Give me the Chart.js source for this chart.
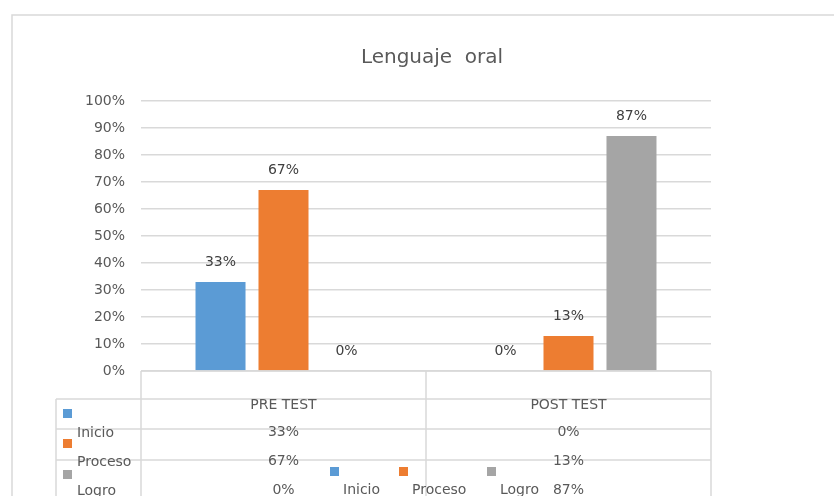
<!DOCTYPE html>
<html>
<head>
<meta charset="utf-8">
<script src="https://cdn.jsdelivr.net/npm/chart.js@4"></script>
<style>
  body { margin: 0; background: #fff; }
  canvas { display: block; }
</style>
</head>
<body>
<canvas id="chart" width="834" height="496"></canvas>
<script>
const categories = ["PRE TEST", "POST TEST"];
const seriesNames = ["Inicio", "Proceso", "Logro"];
const inicio = [33, 0];
const proceso = [67, 13];
const logro = [0, 87];
const seriesColors = ["#5B9BD5", "#ED7D31", "#A5A5A5"];

const FONT = "'DejaVu Sans', sans-serif";
const TEXT = "#595959";
const LINE = "#d9d9d9";

// data labels above each bar
const barLabels = {
  id: "barLabels",
  afterDatasetsDraw(chart) {
    const ctx = chart.ctx;
    ctx.save();
    ctx.font = "14px " + FONT;
    ctx.fillStyle = "#404040";
    ctx.textAlign = "center";
    ctx.textBaseline = "middle";
    chart.data.datasets.forEach((ds, i) => {
      chart.getDatasetMeta(i).data.forEach((bar, j) => {
        ctx.fillText(ds.data[j] + "%", bar.x, bar.y - 20);
      });
    });
    ctx.restore();
  }
};

// frame, title, data table and legend
const tableAndFrame = {
  id: "tableAndFrame",
  afterDraw(chart) {
    const ctx = chart.ctx;
    const area = chart.chartArea;
    const xs = chart.scales.x;
    const left = area.left, right = area.right, top = area.bottom;
    const mid = (xs.getPixelForValue(0) + xs.getPixelForValue(1)) / 2;
    const keyLeft = 56;
    const rows = [399, 429, 460];

    ctx.save();
    ctx.strokeStyle = LINE;
    ctx.lineWidth = 1.5;
    ctx.beginPath();
    // outer frame
    ctx.moveTo(12, 496); ctx.lineTo(12, 15); ctx.lineTo(834, 15);
    // table
    ctx.moveTo(left, top); ctx.lineTo(right, top);
    [left, mid, right].forEach(x => { ctx.moveTo(x, top); ctx.lineTo(x, 496); });
    rows.forEach(y => { ctx.moveTo(keyLeft, y); ctx.lineTo(right, y); });
    ctx.moveTo(keyLeft, rows[0]); ctx.lineTo(keyLeft, 496);
    ctx.stroke();

    // title
    ctx.fillStyle = TEXT;
    ctx.textAlign = "center";
    ctx.textBaseline = "alphabetic";
    ctx.font = "20px " + FONT;
    ctx.fillText("Lenguaje  oral", 432, 63);

    // table text
    ctx.font = "14px " + FONT;
    ctx.textBaseline = "middle";
    const textRows = [405, 432, 461, 490];
    categories.forEach((c, j) => {
      const x = xs.getPixelForValue(j);
      ctx.fillText(c, x, textRows[0]);
      chart.data.datasets.forEach((ds, i) => {
        ctx.fillText(ds.data[j] + "%", x, textRows[i + 1]);
      });
    });

    // legend keys in the table
    const keyTops = [409, 439, 470];
    ctx.textAlign = "left";
    chart.data.datasets.forEach((ds, i) => {
      ctx.fillStyle = ds.backgroundColor;
      ctx.fillRect(63, keyTops[i], 9, 9);
      ctx.fillStyle = TEXT;
      ctx.fillText(ds.label, 77, textRows[i + 1] + 1);
    });

    // bottom legend
    const legendX = [330, 399, 487];
    chart.data.datasets.forEach((ds, i) => {
      ctx.fillStyle = ds.backgroundColor;
      ctx.fillRect(legendX[i], 467, 9, 9);
      ctx.fillStyle = TEXT;
      ctx.fillText(ds.label, legendX[i] + 13, 490);
    });
    ctx.restore();
  }
};

const ctx = document.getElementById("chart").getContext("2d");
new Chart(ctx, {
  type: "bar",
  data: {
    labels: categories,
    datasets: [
      { label: seriesNames[0], data: inicio, backgroundColor: seriesColors[0] },
      { label: seriesNames[1], data: proceso, backgroundColor: seriesColors[1] },
      { label: seriesNames[2], data: logro, backgroundColor: seriesColors[2] }
    ]
  },
  options: {
    responsive: false,
    animation: false,
    layout: { padding: { left: 0, top: 101, right: 123, bottom: 125 } },
    datasets: { bar: { categoryPercentage: 0.663, barPercentage: 0.794, borderWidth: 0 } },
    plugins: {
      legend: { display: false },
      title: { display: false },
      tooltip: { enabled: false }
    },
    scales: {
      x: { display: false },
      y: {
        min: 0,
        max: 100,
        afterFit(scale) { scale.width = 141; },
        border: { display: false },
        grid: { color: LINE, lineWidth: 1.5, drawTicks: false },
        ticks: {
          stepSize: 10,
          padding: 16,
          color: TEXT,
          font: { family: FONT, size: 14 },
          callback: v => v + "%"
        }
      }
    }
  },
  plugins: [barLabels, tableAndFrame]
});
</script>
</body>
</html>
